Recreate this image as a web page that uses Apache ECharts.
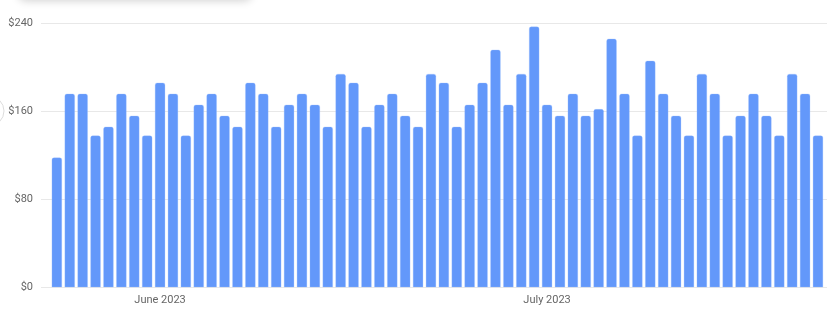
<!DOCTYPE html>
<html>
<head>
<meta charset="utf-8">
<script src="https://cdn.jsdelivr.net/npm/echarts@6/dist/echarts.min.js"></script>
<style>
html,body{margin:0;padding:0;background:#fff;}
#chart{width:836px;height:318px;}
</style>
</head>
<body>
<div id="chart"></div>
<script>
// Daily dates, 2023-05-24 .. 2023-07-22
const startDate = Date.UTC(2023, 4, 24);
const categories = [];
for (let i = 0; i < 60; i++) {
  const d = new Date(startDate + i * 86400000);
  categories.push(d.toISOString().slice(0, 10));
}
const values = [
  118, 176, 176, 138, 146, 176, 156, 138, 186, 176,
  138, 166, 176, 156, 146, 186, 176, 146, 166, 176,
  166, 146, 194, 186, 146, 166, 176, 156, 146, 194,
  186, 146, 166, 186, 216, 166, 194, 237, 166, 156,
  176, 156, 162, 226, 176, 138, 206, 176, 156, 138,
  194, 176, 138, 156, 176, 156, 138, 194, 176, 138
];
const tickDates = ['2023-06-01', '2023-07-01'];
const tickLabels = ['June 2023', 'July 2023'];
const yTicks = [0, 80, 160, 240];

const tickIdx = tickDates.map(d => categories.indexOf(d));
const labelMap = {};
tickIdx.forEach((ix, k) => { labelMap[ix] = tickLabels[k]; });

const chart = echarts.init(document.getElementById('chart'));
chart.setOption({
  animation: false,
  textStyle: { fontFamily: 'Roboto, sans-serif' },
  grid: { left: 41, right: 9, top: 23.3, bottom: 318 - 287.3, containLabel: false },
  xAxis: {
    type: 'value',
    min: -1.229,
    max: 59.70,
    axisLine: { show: false },
    axisTick: { show: false },
    splitLine: { show: false },
    axisLabel: {
      customValues: tickIdx,
      formatter: v => labelMap[Math.round(v)] || '',
      color: '#666',
      fontSize: 11,
      margin: 7
    }
  },
  yAxis: {
    type: 'value',
    min: yTicks[0],
    max: yTicks[yTicks.length - 1],
    interval: 80,
    axisLine: { show: false },
    axisTick: { show: false },
    splitLine: { lineStyle: { color: '#e8e8e8', width: 1 } },
    axisLabel: {
      formatter: v => '$' + v,
      color: '#666',
      fontSize: 11,
      margin: 8
    }
  },
  series: [{
    type: 'bar',
    barWidth: 10.3,
    data: values.map((v, i) => [i, v]),
    itemStyle: {
      color: '#6398fa',
      borderRadius: [2, 2, 0, 0],
      borderColor: 'rgba(160,195,255,0.6)',
      borderWidth: 0.5
    }
  }],
  graphic: [
    {
      type: 'rect',
      shape: { x: 18, y: -30, width: 234, height: 30, r: 8 },
      style: { fill: '#fff', shadowBlur: 8, shadowColor: 'rgba(0,0,0,0.18)', shadowOffsetY: 1 },
      silent: true
    },
    {
      type: 'circle',
      shape: { cx: -11, cy: 111, r: 15 },
      style: { fill: '#fff', stroke: '#dcdcdc', lineWidth: 1 },
      silent: true
    }
  ]
});
</script>
</body>
</html>
